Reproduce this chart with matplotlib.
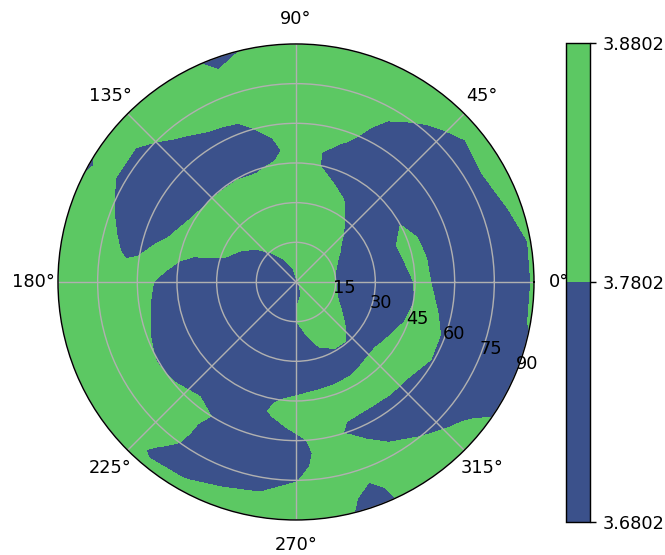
import numpy as np
import matplotlib
matplotlib.use("Agg")
import matplotlib.pyplot as plt
from matplotlib.ticker import FormatStrFormatter

# angular grid (degrees) and radial grid of the sampled field
theta_deg = [0, 10, 20, 30, 40, 50, 60, 70, 80, 90, 100, 110, 120, 130, 140, 150, 160, 170,
             180, 190, 200, 210, 220, 230, 240, 250, 260, 270, 280, 290, 300, 310, 320, 330, 340, 350]
radii = [0, 5, 10, 15, 20, 25, 30, 35, 40, 45, 50, 55, 60, 65, 70, 75, 80, 85, 90]

# field values: one row per angle, values for r = 0..90
z_by_angle = [
    [3.77, 3.813, 3.832, 3.782, 3.732, 3.70, 3.70, 3.70, 3.735, 3.785, 3.79, 3.74, 3.70, 3.70, 3.70, 3.70, 3.70, 3.745, 3.792],
    [3.77, 3.815, 3.83, 3.781, 3.73, 3.70, 3.70, 3.712, 3.762, 3.812, 3.782, 3.732, 3.70, 3.70, 3.70, 3.70, 3.70, 3.744, 3.790],
    [3.77, 3.82, 3.843, 3.793, 3.743, 3.70, 3.70, 3.727, 3.777, 3.819, 3.769, 3.719, 3.70, 3.70, 3.70, 3.70, 3.736, 3.786, 3.836],
    [3.77, 3.82, 3.86, 3.816, 3.766, 3.716, 3.70, 3.70, 3.724, 3.775, 3.735, 3.70, 3.70, 3.70, 3.70, 3.716, 3.766, 3.816, 3.86],
    [3.77, 3.82, 3.86, 3.854, 3.804, 3.754, 3.704, 3.70, 3.70, 3.70, 3.70, 3.70, 3.70, 3.70, 3.70, 3.70, 3.745, 3.795, 3.845],
    [3.77, 3.82, 3.86, 3.86, 3.86, 3.815, 3.765, 3.715, 3.70, 3.70, 3.70, 3.70, 3.70, 3.70, 3.704, 3.754, 3.804, 3.854, 3.86],
    [3.77, 3.82, 3.86, 3.86, 3.86, 3.86, 3.841, 3.791, 3.741, 3.70, 3.70, 3.70, 3.70, 3.727, 3.777, 3.827, 3.86, 3.86, 3.86],
    [3.77, 3.82, 3.86, 3.86, 3.86, 3.86, 3.86, 3.833, 3.783, 3.733, 3.717, 3.767, 3.817, 3.86, 3.86, 3.86, 3.86, 3.86, 3.86],
    [3.77, 3.802, 3.852, 3.86, 3.86, 3.86, 3.86, 3.86, 3.84, 3.79, 3.79, 3.83, 3.86, 3.86, 3.86, 3.86, 3.86, 3.86, 3.86],
    [3.77, 3.798, 3.848, 3.86, 3.86, 3.86, 3.86, 3.86, 3.86, 3.845, 3.845, 3.86, 3.86, 3.86, 3.86, 3.86, 3.86, 3.86, 3.86],
    [3.77, 3.784, 3.834, 3.86, 3.86, 3.86, 3.86, 3.86, 3.844, 3.794, 3.744, 3.773, 3.823, 3.86, 3.86, 3.86, 3.86, 3.814, 3.807],
    [3.77, 3.765, 3.815, 3.86, 3.86, 3.86, 3.86, 3.86, 3.817, 3.767, 3.717, 3.70, 3.741, 3.791, 3.841, 3.86, 3.835, 3.785, 3.735],
    [3.77, 3.727, 3.777, 3.827, 3.86, 3.86, 3.86, 3.86, 3.825, 3.775, 3.725, 3.70, 3.722, 3.772, 3.822, 3.86, 3.86, 3.86, 3.86],
    [3.77, 3.70, 3.739, 3.789, 3.839, 3.86, 3.86, 3.86, 3.825, 3.775, 3.725, 3.70, 3.70, 3.723, 3.773, 3.823, 3.86, 3.86, 3.86],
    [3.77, 3.70, 3.70, 3.74, 3.79, 3.84, 3.86, 3.86, 3.829, 3.779, 3.729, 3.70, 3.70, 3.70, 3.70, 3.74, 3.79, 3.84, 3.86],
    [3.77, 3.70, 3.70, 3.70, 3.744, 3.794, 3.844, 3.86, 3.848, 3.798, 3.748, 3.70, 3.70, 3.70, 3.70, 3.743, 3.793, 3.813, 3.763],
    [3.77, 3.70, 3.70, 3.70, 3.702, 3.752, 3.802, 3.852, 3.86, 3.836, 3.786, 3.736, 3.70, 3.70, 3.75, 3.80, 3.85, 3.86, 3.82],
    [3.77, 3.70, 3.70, 3.70, 3.70, 3.70, 3.70, 3.70, 3.731, 3.781, 3.831, 3.827, 3.777, 3.757, 3.807, 3.857, 3.86, 3.86, 3.86],
    [3.77, 3.70, 3.70, 3.70, 3.70, 3.70, 3.70, 3.70, 3.70, 3.70, 3.742, 3.792, 3.842, 3.86, 3.86, 3.86, 3.86, 3.86, 3.86],
    [3.77, 3.70, 3.70, 3.70, 3.70, 3.70, 3.70, 3.70, 3.70, 3.70, 3.721, 3.771, 3.821, 3.86, 3.86, 3.86, 3.86, 3.86, 3.86],
    [3.77, 3.70, 3.70, 3.70, 3.70, 3.70, 3.70, 3.70, 3.70, 3.70, 3.70, 3.744, 3.794, 3.844, 3.86, 3.86, 3.86, 3.86, 3.86],
    [3.77, 3.70, 3.70, 3.70, 3.70, 3.70, 3.70, 3.70, 3.70, 3.70, 3.70, 3.722, 3.772, 3.822, 3.86, 3.86, 3.86, 3.86, 3.86],
    [3.77, 3.70, 3.70, 3.70, 3.70, 3.70, 3.70, 3.70, 3.70, 3.70, 3.70, 3.737, 3.787, 3.837, 3.86, 3.86, 3.86, 3.86, 3.86],
    [3.77, 3.70, 3.70, 3.70, 3.70, 3.70, 3.70, 3.70, 3.70, 3.70, 3.715, 3.765, 3.815, 3.86, 3.86, 3.836, 3.786, 3.763, 3.813],
    [3.77, 3.70, 3.70, 3.70, 3.70, 3.70, 3.70, 3.70, 3.70, 3.70, 3.725, 3.779, 3.77, 3.712, 3.70, 3.70, 3.725, 3.775, 3.825],
    [3.77, 3.70, 3.70, 3.70, 3.70, 3.70, 3.70, 3.70, 3.70, 3.73, 3.73, 3.70, 3.70, 3.70, 3.70, 3.705, 3.755, 3.805, 3.855],
    [3.77, 3.70, 3.70, 3.70, 3.70, 3.70, 3.70, 3.70, 3.724, 3.774, 3.797, 3.747, 3.70, 3.70, 3.70, 3.724, 3.774, 3.824, 3.86],
    [3.77, 3.764, 3.776, 3.774, 3.742, 3.71, 3.70, 3.70, 3.75, 3.80, 3.85, 3.803, 3.753, 3.703, 3.723, 3.773, 3.823, 3.86, 3.86],
    [3.77, 3.762, 3.812, 3.828, 3.778, 3.728, 3.70, 3.712, 3.762, 3.812, 3.85, 3.814, 3.825, 3.845, 3.86, 3.86, 3.86, 3.845, 3.83],
    [3.77, 3.777, 3.827, 3.86, 3.842, 3.792, 3.742, 3.716, 3.766, 3.816, 3.835, 3.785, 3.764, 3.814, 3.86, 3.836, 3.786, 3.736, 3.71],
    [3.77, 3.788, 3.838, 3.86, 3.86, 3.821, 3.771, 3.721, 3.769, 3.819, 3.83, 3.781, 3.731, 3.73, 3.78, 3.83, 3.86, 3.86, 3.86],
    [3.77, 3.796, 3.846, 3.86, 3.86, 3.823, 3.773, 3.735, 3.785, 3.835, 3.835, 3.785, 3.735, 3.70, 3.723, 3.773, 3.823, 3.86, 3.86],
    [3.77, 3.801, 3.851, 3.86, 3.82, 3.77, 3.72, 3.742, 3.792, 3.842, 3.839, 3.789, 3.739, 3.70, 3.70, 3.709, 3.759, 3.809, 3.859],
    [3.77, 3.81, 3.86, 3.826, 3.776, 3.726, 3.70, 3.723, 3.773, 3.823, 3.86, 3.819, 3.769, 3.719, 3.70, 3.70, 3.70, 3.70, 3.71],
    [3.77, 3.815, 3.847, 3.797, 3.747, 3.70, 3.70, 3.70, 3.743, 3.793, 3.843, 3.812, 3.762, 3.712, 3.70, 3.70, 3.70, 3.70, 3.73],
    [3.77, 3.815, 3.836, 3.786, 3.736, 3.70, 3.70, 3.70, 3.728, 3.778, 3.82, 3.77, 3.72, 3.70, 3.70, 3.70, 3.70, 3.744, 3.790],
]

levels = [3.6802, 3.7802, 3.8802]
r_ticks = [15, 30, 45, 60, 75, 90]

# close the circle by repeating the first angle at 360 degrees
Z = np.array(z_by_angle)
Z = np.vstack([Z, Z[:1]])
theta = np.radians(np.append(theta_deg, 360))
T, R = np.meshgrid(theta, np.array(radii, dtype=float), indexing="ij")

DPI = 128
fig = plt.figure(figsize=(665 / DPI, 555 / DPI), dpi=DPI)
ax = fig.add_axes([0.0872, 0.0631, 0.7158, 0.8577], projection="polar")
cs = ax.contourf(T, R, Z, levels=levels, cmap="viridis")
ax.set_ylim(0, 90)
ax.set_yticks(r_ticks)
ax.set_rlabel_position(-22.5)

cax = fig.add_axes([0.8511, 0.0595, 0.0361, 0.863])
cb = fig.colorbar(cs, cax=cax)
cb.set_ticks(levels)
cb.ax.yaxis.set_major_formatter(FormatStrFormatter("%.4f"))

fig.savefig("out.png", dpi=DPI)
